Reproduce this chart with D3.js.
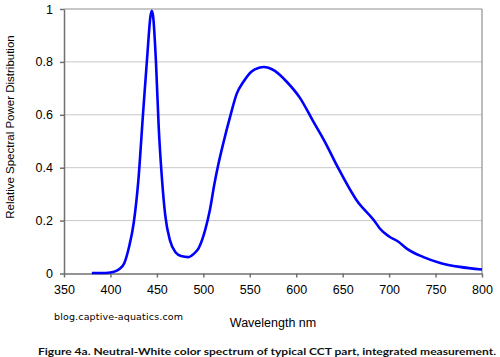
<!DOCTYPE html>
<html><head><meta charset="utf-8">
<script src="https://cdn.jsdelivr.net/npm/d3@7"></script>
<style>body{margin:0;background:#fff}svg{display:block}</style>
</head><body>
<svg id="c" width="500" height="357"></svg>
<script>
const wavelengths = [380,390,400,405,410,415,420,425,430,435,440,443,444.5,446,449,452,455,459,464,470,476,484,490,495,502,507,512,516,522,529,536,543,552,560,565,570,577,590,604,618,631,645,665,685,690,700,710,719,737,755,776,800];
const power = [0.002,0.002,0.004,0.008,0.018,0.04,0.1,0.19,0.35,0.6,0.84,0.97,0.993,0.97,0.8,0.55,0.38,0.22,0.126,0.08,0.066,0.062,0.075,0.096,0.165,0.239,0.34,0.41,0.5,0.595,0.68,0.724,0.764,0.778,0.781,0.778,0.766,0.724,0.664,0.577,0.497,0.4,0.277,0.195,0.17,0.14,0.12,0.094,0.062,0.04,0.025,0.015];
const xTicks = [350,400,450,500,550,600,650,700,750,800];
const yTicks = [0,0.2,0.4,0.6,0.8,1];
const yTickLabels = ["0","0.2","0.4","0.6","0.8","1"];

const svg = d3.select("#c");
const L=64, R=482, T=9, B=273.5;
const x = d3.scaleLinear().domain([350,800]).range([L,R]);
const y = d3.scaleLinear().domain([0,1]).range([B,T]);

// gridlines
svg.append("g").selectAll("line").data(yTicks.slice(1,5)).join("line")
  .attr("x1",L).attr("x2",R).attr("y1",d=>y(d)).attr("y2",d=>y(d))
  .attr("stroke","#c8c8c8").attr("stroke-width",1);
// border top/right
svg.append("line").attr("x1",L).attr("x2",R).attr("y1",T).attr("y2",T).attr("stroke","#909090").attr("stroke-width",1.2);
svg.append("line").attr("x1",R).attr("x2",R).attr("y1",T).attr("y2",B).attr("stroke","#909090").attr("stroke-width",1.2);

const xAxis = svg.append("g").attr("transform",`translate(0,${B})`)
  .call(d3.axisBottom(x).tickValues(xTicks).tickSize(4).tickSizeOuter(0).tickPadding(8));
const yAxis = svg.append("g").attr("transform",`translate(${L},0)`)
  .call(d3.axisLeft(y).tickValues(yTicks).tickFormat((d,i)=>yTickLabels[i]).tickSize(4).tickSizeOuter(0).tickPadding(7));
[xAxis,yAxis].forEach(a=>{
  a.selectAll("path,line").attr("stroke","#707070").attr("stroke-width",1.5);
  a.selectAll("text").attr("font-family","Liberation Sans, Arial, sans-serif").attr("font-size",12.5).attr("fill","#000");
});

const line = d3.line().x((d,i)=>x(wavelengths[i])).y(d=>y(d)).curve(d3.curveMonotoneX);
svg.append("path").datum(power).attr("d",line).attr("fill","none")
  .attr("stroke","#0000ff").attr("stroke-width",2.6).attr("stroke-linejoin","round");

svg.append("text").attr("transform","translate(14,127) rotate(-90)").attr("text-anchor","middle")
  .attr("font-family","Liberation Sans, Arial, sans-serif").attr("font-size",11.5).text("Relative Spectral Power Distribution");
svg.append("text").attr("x",273).attr("y",327).attr("text-anchor","middle")
  .attr("font-family","Liberation Sans, Arial, sans-serif").attr("font-size",12.5).text("Wavelength nm");
svg.append("text").attr("x",54).attr("y",320).attr("textLength",129).attr("lengthAdjust","spacing")
  .attr("font-family","DejaVu Sans, Verdana, sans-serif").attr("font-size",9.5).text("blog.captive-aquatics.com");
svg.append("text").attr("x",38).attr("y",355).attr("textLength",458).attr("lengthAdjust","spacingAndGlyphs")
  .attr("font-family","Lato, Open Sans, sans-serif").attr("font-weight","bold").attr("font-size",10).attr("fill","#111")
  .text("Figure 4a.  Neutral-White color spectrum of  typical CCT part, integrated measurement.");
</script>
</body></html>
